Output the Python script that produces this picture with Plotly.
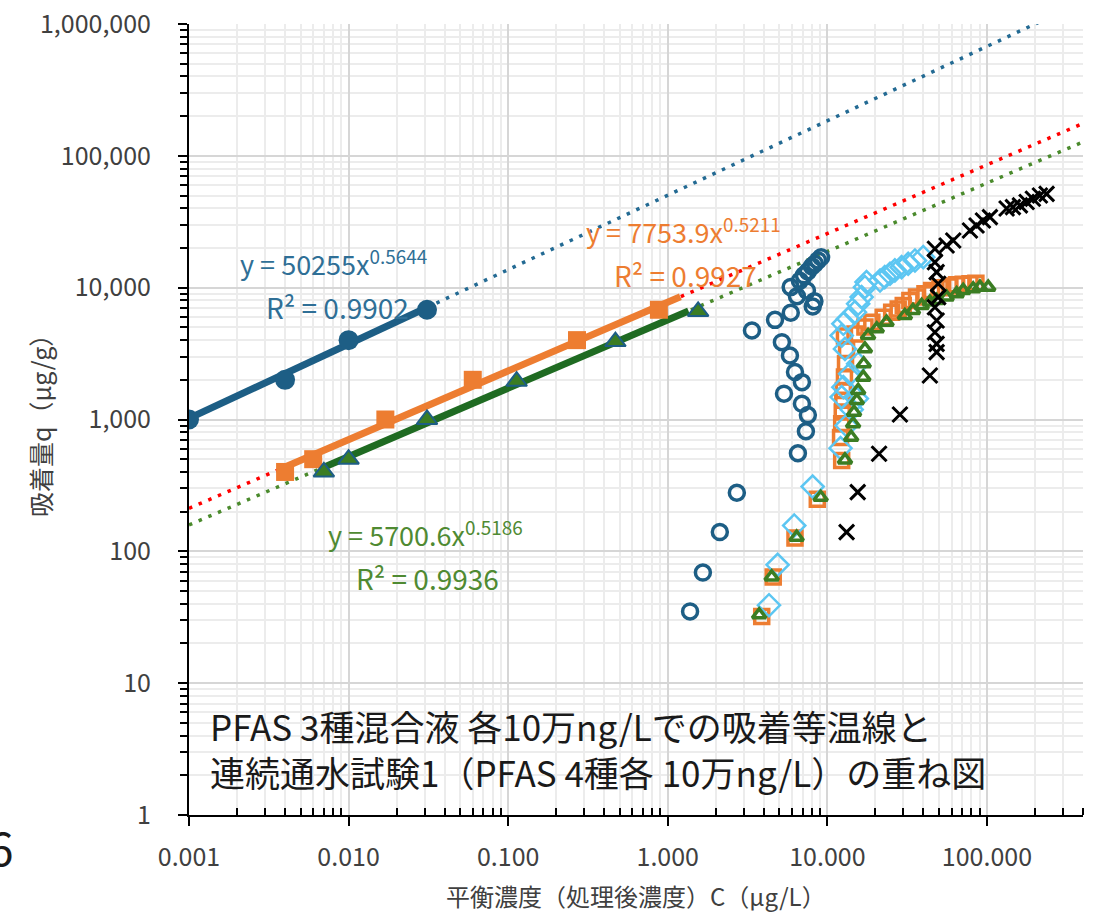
import numpy as np
import plotly.graph_objects as go

# ---- Adsorption isotherm (batch, 3-PFAS mix, 100,000 ng/L each) ----
iso1_c = [0.001, 0.004, 0.010, 0.031]
iso1_q = [1000, 2000, 4000, 6800]
iso2_c = [0.004, 0.006, 0.017, 0.060, 0.27, 0.88]
iso2_q = [400, 500, 1000, 2000, 4000, 6800]
iso3_c = [0.007, 0.010, 0.031, 0.113, 0.47, 1.55]
iso3_q = [400, 500, 1000, 1950, 3900, 6600]

# power-law fits q = k * C^n, with the C span of the solid segment
fit1 = dict(k=50255, n=0.5644, r2=0.9902, c0=0.001, c1=0.031)
fit2 = dict(k=7753.9, n=0.5211, r2=0.9927, c0=0.004, c1=1.2)
fit3 = dict(k=5700.6, n=0.5186, r2=0.9936, c0=0.007, c1=1.35)

# ---- Continuous column test 1 (4 PFAS, 100,000 ng/L each) ----
col1_c = [1.38, 1.66, 2.12, 2.71, 6.54, 7.34, 7.55, 6.93, 5.35, 6.93, 6.27, 5.83, 5.19,
          3.37, 4.70, 5.90, 8.10, 8.30, 6.45, 7.45, 5.89, 6.73, 7.13, 7.55, 8.01, 8.36,
          8.74, 9.14]
col1_q = [35, 69, 140, 278, 555, 815, 1080, 1315, 1570, 1920, 2290, 3060, 3860,
          4730, 5700, 6450, 7200, 7900, 8600, 9500, 10100, 11300, 12400, 13300, 14500,
          15200, 16100, 17000]

col2_c = [3.88, 4.58, 6.27, 8.65, 12.3, 12.1, 12.3, 12.4, 12.5, 12.6, 12.8, 13.0, 13.2,
          12.8, 14.9, 17.2, 19.0, 22.4, 25.3, 27.8, 29.9, 32.9, 36.2, 40.9, 45.0, 50.8,
          58.6, 64.6, 71.0, 78.3, 85.3]
col2_q = [32, 64, 126, 248, 489, 730, 930, 1140, 1400, 1660, 2100, 2650, 3400,
          4300, 4460, 5020, 5470, 5970, 6520, 6900, 7330, 8000, 8480, 9000, 9530, 10000,
          10300, 10500, 10600, 10700, 10800]

col3_c = [4.31, 4.88, 6.20, 8.09, 12.1, 13.2, 14.2, 15.3, 12.3, 12.6, 13.9, 15.6, 12.9,
          12.3, 12.6, 13.5, 14.9, 15.6, 16.4, 17.2, 17.6, 21.4, 22.9, 24.7, 26.5, 29.2,
          32.1, 35.4, 39.9]
col3_q = [39, 79, 157, 310, 606, 900, 1190, 1440, 1480, 1760, 2220, 2650, 3430,
          4330, 5320, 5810, 6520, 7550, 8480, 10090, 11020, 11340, 12010, 12750, 13510,
          14300, 15180, 16070, 17030]

col4_c = [3.74, 4.48, 6.42, 9.08, 12.9, 14.1, 14.5, 14.7, 15.3, 15.6, 16.8, 16.9, 17.2,
          18.0, 20.4, 23.5, 30.6, 34.4, 39.0, 43.9, 48.4, 55.9, 64.6, 71.0, 82.0, 90.4,
          101.9]
col4_q = [33, 64, 128, 257, 494, 734, 928, 1136, 1394, 1661, 2094, 2646, 3435,
          4335, 4870, 5470, 6150, 6720, 7330, 7770, 8000, 8480, 9000, 9530, 9810, 10090,
          10090]

col5_c = [13.2, 15.5, 21.1, 28.5, 43.9, 48.4, 48.4, 47.2, 48.4, 47.2, 49.5, 49.5, 48.4,
          47.2, 47.2, 55.9, 61.5, 78.3, 86.1, 94.4, 104.4, 132.8, 145.5, 161.0, 177.4,
          194.0, 214.8, 236.6]
col5_q = [140, 281, 550, 1091, 2158, 3245, 3750, 4590, 5630, 7110, 8480, 10700, 13110,
          15600, 19720, 20890, 22800, 27170, 29630, 32320, 34300, 39900, 40800, 42100,
          44600, 47270, 50050, 51500]

# axis ticks
x_tickvals = [0.001, 0.01, 0.1, 1, 10, 100]
x_ticktext = ["0.001", "0.010", "0.100", "1.000", "10.000", "100.000"]
y_tickvals = [1, 10, 100, 1000, 10000, 100000, 1000000]
y_ticktext = ["1", "10", "100", "1,000", "10,000", "100,000", "1,000,000"]

x_min, x_max = 0.001, 400.0
y_min, y_max = 1.0, 1e6

BLUE = "#1d5e85"
BLUE_TXT = "#2f6f96"
ORANGE = "#ed7d31"
GREEN = "#3b7d23"
GREEN_LINE = "#1f6b22"
GREEN_DOT = "#4a8a2c"
GREEN_TXT = "#4f8a32"
SKY = "#5cc6f2"
RED = "#ff0000"
FONT = "Noto Sans CJK JP"
TXT = "#404040"

fig = go.Figure()

def power(fit, c):
    c = np.asarray(c, dtype=float)
    return fit["k"] * c ** fit["n"]

# dotted forecast trendlines over the full axis span
c_full = np.logspace(np.log10(x_min), np.log10(x_max), 30)
for fit, col in [(fit1, "#236a93"), (fit2, RED), (fit3, GREEN_DOT)]:
    fig.add_trace(go.Scatter(x=c_full, y=power(fit, c_full), mode="lines",
                             line=dict(color=col, width=3.5, dash="3.5px,7px"),
                             hoverinfo="skip", showlegend=False))

# column test series (open markers)
fig.add_trace(go.Scatter(x=col1_c, y=col1_q, mode="markers", showlegend=False,
                         marker=dict(symbol="circle-open", size=15, color=BLUE,
                                     line=dict(width=3.5, color=BLUE))))
fig.add_trace(go.Scatter(x=col2_c, y=col2_q, mode="markers", showlegend=False,
                         marker=dict(symbol="square-open", size=14, color=ORANGE,
                                     line=dict(width=3.5, color=ORANGE))))
fig.add_trace(go.Scatter(x=col3_c, y=col3_q, mode="markers", showlegend=False,
                         marker=dict(symbol="diamond-open", size=17, color=SKY,
                                     line=dict(width=2.5, color=SKY))))
fig.add_trace(go.Scatter(x=col4_c, y=col4_q, mode="markers", showlegend=False,
                         marker=dict(symbol="triangle-up-open", size=12, color=GREEN,
                                     line=dict(width=3.5, color=GREEN))))
fig.add_trace(go.Scatter(x=col5_c, y=col5_q, mode="markers", showlegend=False,
                         marker=dict(symbol="x-thin-open", size=15, color="#000000",
                                     line=dict(width=3, color="#000000"))))

# solid trendline segments over the isotherm data span
for fit, col in [(fit1, BLUE), (fit2, ORANGE), (fit3, GREEN_LINE)]:
    cs = np.array([fit["c0"], fit["c1"]])
    fig.add_trace(go.Scatter(x=cs, y=power(fit, cs), mode="lines",
                             line=dict(color=col, width=7),
                             hoverinfo="skip", showlegend=False))

# isotherm markers
fig.add_trace(go.Scatter(x=iso1_c, y=iso1_q, mode="markers", showlegend=False,
                         marker=dict(symbol="circle", size=20, color=BLUE)))
fig.add_trace(go.Scatter(x=iso2_c, y=iso2_q, mode="markers", showlegend=False,
                         marker=dict(symbol="square", size=18, color=ORANGE)))
fig.add_trace(go.Scatter(x=iso3_c, y=iso3_q, mode="markers", showlegend=False,
                         marker=dict(symbol="triangle-up", size=18, color=GREEN,
                                     line=dict(width=2, color=BLUE))))

# layout geometry in pixels
W, H = 1099, 915
L, R, T, B = 189, 16, 24, 100
PW, PH = W - L - R, H - T - B

def px(x):
    return (x - L) / PW

def py(y):
    return (H - B - y) / PH

def eq_text(fit):
    return "y = {}x<sup>{}</sup>".format(fit["k"], fit["n"])

def r2_text(fit):
    return "R² = {:.4f}".format(fit["r2"])

annotations = []
for fit, col, (ex, ey), (rx, ry) in [
    (fit1, BLUE_TXT, (238, 262), (264, 307)),
    (fit2, ORANGE, (584, 230), (612, 275)),
    (fit3, GREEN_TXT, (326, 533), (354, 578)),
]:
    annotations.append(dict(x=px(ex), y=py(ey), xref="paper", yref="paper",
                            text=eq_text(fit), showarrow=False, xanchor="left",
                            yanchor="middle", font=dict(family=FONT, size=27, color=col)))
    annotations.append(dict(x=px(rx), y=py(ry), xref="paper", yref="paper",
                            text=r2_text(fit), showarrow=False, xanchor="left",
                            yanchor="middle", font=dict(family=FONT, size=28, color=col)))

# caption inside the plot
annotations.append(dict(x=px(208), y=py(748), xref="paper", yref="paper",
                        text=("PFAS 3種混合液 各10万ng/Lでの吸着等温線と<br>"
                              "連続通水試験1（PFAS 4種各 10万ng/L）の重ね図"),
                        showarrow=False, xanchor="left", yanchor="middle", align="left",
                        font=dict(family=FONT, size=35, color="#1a1a1a")))

# axis titles
annotations.append(dict(x=px(636), y=py(895), xref="paper", yref="paper",
                        text="平衡濃度（処理後濃度）C（μg/L）", showarrow=False,
                        xanchor="center", yanchor="middle",
                        font=dict(family=FONT, size=24, color=TXT)))
annotations.append(dict(x=px(40), y=py(420), xref="paper", yref="paper",
                        text="吸着量q（μg/g）", showarrow=False, textangle=-90,
                        xanchor="center", yanchor="middle",
                        font=dict(family=FONT, size=25, color=TXT)))

# figure number at the left margin
annotations.append(dict(x=px(16), y=py(846), xref="paper", yref="paper",
                        text="6", showarrow=False, xanchor="right", yanchor="middle",
                        font=dict(family=FONT, size=46, color="#1a1a1a")))

def minor_vals(lo_exp, hi_exp):
    return [m * 10.0 ** e for e in range(lo_exp, hi_exp) for m in range(2, 10)]

fig.update_layout(
    width=W, height=H,
    margin=dict(l=L, r=R, t=T, b=B, pad=0, autoexpand=False),
    paper_bgcolor="white", plot_bgcolor="white",
    font=dict(family=FONT, size=24, color=TXT),
    annotations=annotations,
    showlegend=False,
)

fig.update_xaxes(
    type="log", range=[np.log10(x_min), np.log10(x_max)], automargin=False,
    tickmode="array", tickvals=x_tickvals, ticktext=x_ticktext,
    tickfont=dict(family=FONT, size=25, color=TXT),
    showline=True, linecolor="#000000", linewidth=2,
    ticks="outside", ticklen=9, tickwidth=2, tickcolor="#000000",
    ticklabelstandoff=10,
    showgrid=True, gridcolor="#d6d6d6", gridwidth=2,
    minor=dict(tickmode="array", tickvals=minor_vals(-3, 3), ticks="inside",
               ticklen=7, tickwidth=1.5, tickcolor="#000000",
               showgrid=True, gridcolor="#ececec", gridwidth=2),
    zeroline=False,
)
fig.update_yaxes(
    type="log", range=[np.log10(y_min), np.log10(y_max)], automargin=False,
    tickmode="array", tickvals=y_tickvals, ticktext=y_ticktext,
    tickfont=dict(family=FONT, size=25, color=TXT),
    showline=True, linecolor="#000000", linewidth=2,
    ticks="outside", ticklen=9, tickwidth=2, tickcolor="#000000",
    ticklabelstandoff=22,
    showgrid=True, gridcolor="#d6d6d6", gridwidth=2,
    minor=dict(tickmode="array", tickvals=minor_vals(0, 6), ticks="outside",
               ticklen=7, tickwidth=1.5, tickcolor="#000000",
               showgrid=True, gridcolor="#ececec", gridwidth=2),
    zeroline=False,
)

fig.write_html("out.html")
